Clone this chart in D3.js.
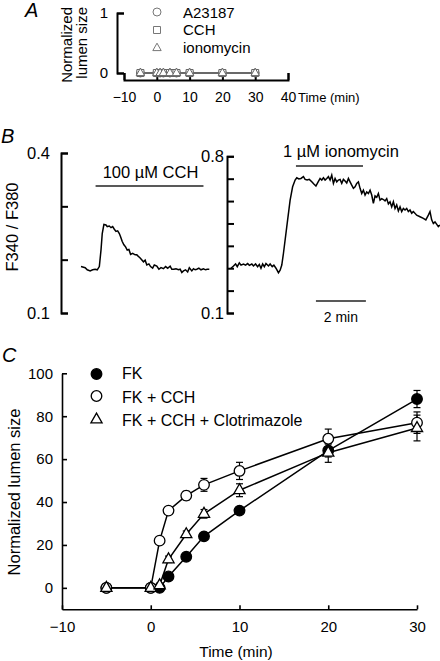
<!DOCTYPE html>
<html><head><meta charset="utf-8">
<script src="https://cdn.jsdelivr.net/npm/d3@7"></script>
<style>
html,body{margin:0;padding:0;background:#fff;}
svg{display:block;font-family:"Liberation Sans",Arial,sans-serif;}
</style></head>
<body><svg id="c" width="440" height="661"></svg>
<script>
// ---------- Panel A data ----------
const aTimes = [-5, 0, 1, 2, 4, 6, 10, 20, 30];
const aA23187 = [0, 0, 0, 0, 0, 0, 0, 0, 0];
const aCCH = [0, 0, 0, 0, 0, 0, 0, 0, 0];
const aIono = [0, 0, 0, 0, 0, 0, 0, 0, 0];
const aLegend = ["A23187", "CCH", "ionomycin"];
const aXTicks = [-10, 0, 10, 20, 30, 40];
const aYTicks = [0, 1];

// ---------- Panel B data (time s, F340/F380) ----------
const cchTraceT = [0,10,15,22,28,34,39,44,48,51,55,60,63,68,72,76,80,84,88,92,95,99,103,107,111,115,119,124,130,134,138,142,150,154,158,163,167,172,176,182,187,192,198,203,208,214,218,223,228,234,238,242,246,251,256,260,266,270,274,278,283,288,294,299,303,308];
const cchTraceV = [0.187,0.185,0.181,0.179,0.181,0.182,0.181,0.187,0.218,0.249,0.266,0.265,0.262,0.263,0.260,0.262,0.257,0.253,0.254,0.249,0.243,0.234,0.228,0.224,0.218,0.219,0.210,0.212,0.209,0.209,0.206,0.203,0.196,0.199,0.190,0.192,0.187,0.184,0.190,0.188,0.182,0.185,0.183,0.187,0.184,0.188,0.182,0.182,0.183,0.181,0.182,0.176,0.179,0.181,0.177,0.185,0.179,0.183,0.181,0.182,0.184,0.181,0.183,0.181,0.182,0.182];
const ionoTraceT = [0,6,11,15,20,24,30,35,40,44,50,54,59,64,68,72,76,80,84,90,94,99,103,108,114,118,122,126,134,142,148,154,158,163,168,174,178,183,188,194,199,204,208,214,218,222,226,230,234,238,242,246,250,254,258,262,266,270,274,278,282,286,290,294,298,302,306,310,314,318,322,326,330,334,338,342,346,350,354,358,362,366,370,374,378,382,386,390,394,398,402,406,410,414,418,422,426,430,434,438,446,454,462,468,474,478,482,486,490,498,502];
const ionoTraceV = [0.300,0.310,0.319,0.307,0.324,0.314,0.319,0.314,0.321,0.313,
0.319,0.310,0.319,0.307,0.317,0.300,0.319,0.307,0.321,0.310,
0.319,0.307,0.314,0.300,0.280,0.291,0.314,0.367,0.486,0.604,
0.664,0.694,0.704,0.699,0.701,0.709,0.697,0.694,0.697,0.686,
0.676,0.667,0.681,0.701,0.694,0.704,0.694,0.701,0.709,0.694,
0.716,0.679,0.701,0.686,0.694,0.697,0.679,0.697,0.690,0.681,
0.701,0.686,0.671,0.657,0.664,0.679,0.686,0.657,0.634,0.649,
0.627,0.641,0.634,0.649,0.627,0.590,0.623,0.617,0.634,0.604,
0.611,0.607,0.601,0.611,0.587,0.597,0.574,0.597,0.567,0.583,
0.556,0.574,0.553,0.567,0.560,0.567,0.553,0.560,0.546,0.553,
0.537,0.530,0.523,0.516,0.537,0.553,0.516,0.500,0.507,0.486,0.493];
const cchBar = [35, 294];
const ionoBar = [156, 317];
const scaleBar = [204, 324];
const bLeftTicks = [0.1, 0.2, 0.3, 0.4];
const bRightTicks = [0.1, 0.2, 0.3, 0.4, 0.5, 0.6, 0.7, 0.8];

// ---------- Panel C data ----------
const cTimes = [-5, 0, 1, 2, 4, 6, 10, 20, 30];
const fk = [0, 0, 0, 5.3, 14.5, 24, 36, 64, 88];
const fkErr = [0, 0, 0, 1, 1.5, 1.5, 1.5, 3, 4];
const fkCch = [0, 0, 22, 36, 43, 48, 54.5, 69.5, 77];
const fkCchErr = [0, 0, 1, 1.5, 2, 3, 4, 4.5, 5];
const fkCchClo = [0, 0, 1.2, 13.3, 25, 34.5, 45.5, 63, 74.5];
const fkCchCloErr = [0, 0, 1, 1.5, 1.5, 2, 3, 4.5, 6];
const cLegend = ["FK", "FK + CCH", "FK + CCH + Clotrimazole"];
const cXTicks = [-10, 0, 10, 20, 30];
const cYTicks = [0, 20, 40, 60, 80, 100];

const svg = d3.select("#c");
const triPath = (s) => `M0,${-1.15*s}L${s},${0.62*s}L${-s},${0.62*s}Z`;
const sqPath = (s) => `M${-s},${-s}H${s}V${s}H${-s}Z`;

// panel letters
[["A",25,17],["B",1,143],["C",2,362]].forEach(([t,x,y])=>{
  svg.append("text").attr("x",x).attr("y",y).attr("font-size",20).attr("font-style","italic").text(t);
});

// ================= PANEL A =================
{
  const x = d3.scaleLinear().domain([-10,40]).range([124,288]);
  const y = d3.scaleLinear().domain([0,1]).range([73,13]);
  const gx = svg.append("g").attr("transform","translate(0,80)")
    .call(d3.axisBottom(x).tickValues(aXTicks).tickSize(-7).tickPadding(12).tickFormat(d3.format("d")));
  const gy = svg.append("g").attr("transform","translate(117,0)")
    .call(d3.axisLeft(y).tickValues(aYTicks).tickSize(-7).tickPadding(9).tickFormat(d3.format("d")));
  [gx,gy].forEach(g=>{
    g.selectAll("path,line").attr("stroke","#000").attr("stroke-width",2);
    g.selectAll("text").attr("font-size",14).attr("font-family","Liberation Sans, Arial");
  });
  gy.selectAll("text").attr("font-size",15);
  svg.append("text").attr("x",298).attr("y",102).attr("font-size",13).text("Time (min)");
  svg.append("text").attr("transform","translate(72,7) rotate(-90)").attr("text-anchor","end").attr("font-size",15).text("Normalized");
  svg.append("text").attr("transform","translate(87,7) rotate(-90)").attr("text-anchor","end").attr("font-size",15).text("lumen size");

  const line = d3.line().x((d,i)=>x(aTimes[i])).y(d=>y(d));
  const series = [aA23187, aCCH, aIono];
  series.forEach(s=>{
    svg.append("path").attr("d",line(s)).attr("fill","none").attr("stroke","#555").attr("stroke-width",1);
  });
  const shapes = [
    g=>g.append("circle").attr("r",4),
    g=>g.append("path").attr("d",sqPath(3.5)),
    g=>g.append("path").attr("d",triPath(4.2))
  ];
  series.forEach((s,k)=>{
    s.forEach((v,i)=>{
      const g = svg.append("g").attr("transform",`translate(${x(aTimes[i])},${y(v)})`);
      shapes[k](g).attr("fill","#fff").attr("stroke","#666").attr("stroke-width",1);
    });
  });
  aLegend.forEach((t,k)=>{
    const yy = [12,30,48][k];
    const g = svg.append("g").attr("transform",`translate(157,${yy})`);
    shapes[k](g).attr("fill","#fff").attr("stroke","#777").attr("stroke-width",1);
    svg.append("text").attr("x",183).attr("y",[17.5,35,53][k]).attr("font-size",15).text(t);
  });
}

// ================= PANEL B =================
{
  const yL = d3.scaleLinear().domain([0.1,0.4]).range([313,153]);
  const yR = d3.scaleLinear().domain([0.1,0.8]).range([313,156.3]);
  const xL = d3.scaleLinear().domain([0,308]).range([81,209.3]);
  const xR = d3.scaleLinear().domain([0,502]).range([231,440]);
  const fmt = d=> (Math.abs(d-0.1)<1e-9 || Math.abs(d-0.4)<1e-9) ? d3.format(".1f")(d) : "";
  const fmtR = d=> (Math.abs(d-0.1)<1e-9 || Math.abs(d-0.8)<1e-9) ? d3.format(".1f")(d) : "";
  const gl = svg.append("g").attr("transform","translate(61,0)")
    .call(d3.axisLeft(yL).tickValues(bLeftTicks).tickSize(-7).tickPadding(11).tickFormat(fmt));
  const gr = svg.append("g").attr("transform","translate(227,0)")
    .call(d3.axisLeft(yR).tickValues(bRightTicks).tickSize(-7).tickPadding(3).tickFormat(fmtR));
  [gl,gr].forEach(g=>{
    g.selectAll("path,line").attr("stroke","#000").attr("stroke-width",2);
    g.selectAll("text").attr("font-size",16.5).attr("font-family","Liberation Sans, Arial");
  });
  svg.append("text").attr("transform","translate(18,227) rotate(-90)").attr("text-anchor","middle").attr("font-size",16.5).text("F340 / F380");

  const lineL = d3.line().x((d,i)=>xL(cchTraceT[i])).y(d=>yL(d));
  const lineR = d3.line().x((d,i)=>xR(ionoTraceT[i])).y(d=>yR(d));
  svg.append("path").attr("d",lineL(cchTraceV)).attr("fill","none").attr("stroke","#000").attr("stroke-width",1.5);
  svg.append("path").attr("d",lineR(ionoTraceV)).attr("fill","none").attr("stroke","#000").attr("stroke-width",1.5);

  svg.append("line").attr("x1",xL(cchBar[0])).attr("x2",xL(cchBar[1])).attr("y1",186).attr("y2",186).attr("stroke","#222").attr("stroke-width",1.3);
  svg.append("text").attr("x",(xL(cchBar[0])+xL(cchBar[1]))/2+1).attr("y",178).attr("text-anchor","middle").attr("font-size",16.5).text("100 \u00b5M CCH");
  svg.append("line").attr("x1",xR(ionoBar[0])).attr("x2",xR(ionoBar[1])).attr("y1",166).attr("y2",166).attr("stroke","#222").attr("stroke-width",1.3);
  svg.append("text").attr("x",341).attr("y",157).attr("text-anchor","middle").attr("font-size",16.5).text("1 \u00b5M ionomycin");
  svg.append("line").attr("x1",xR(scaleBar[0])).attr("x2",xR(scaleBar[1])).attr("y1",301).attr("y2",301).attr("stroke","#222").attr("stroke-width",1.3);
  svg.append("text").attr("x",(xR(scaleBar[0])+xR(scaleBar[1]))/2).attr("y",322).attr("text-anchor","middle").attr("font-size",14).text("2 min");
}

// ================= PANEL C =================
{
  const x = d3.scaleLinear().domain([-10,30]).range([62,417]);
  const y = d3.scaleLinear().domain([-10,100]).range([609.3,373.3]);
  const gx = svg.append("g").attr("transform","translate(0,609.3)")
    .call(d3.axisBottom(x).tickValues(cXTicks).tickSize(-4).tickSizeOuter(0).tickPadding(12));
  const gy = svg.append("g").attr("transform","translate(62,0)")
    .call(d3.axisLeft(y).tickValues(cYTicks).tickSize(-5).tickSizeOuter(0).tickPadding(9));
  [gx,gy].forEach(g=>{
    g.selectAll("path,line").attr("stroke","#000").attr("stroke-width",1.6);
    g.selectAll("text").attr("font-size",15).attr("font-family","Liberation Sans, Arial");
  });
  svg.append("text").attr("x",236).attr("y",657).attr("text-anchor","middle").attr("font-size",15.5).text("Time (min)");
  svg.append("text").attr("transform","translate(20,492) rotate(-90)").attr("text-anchor","middle").attr("font-size",16.5).text("Normalized lumen size");

  const series = [[fk,fkErr],[fkCch,fkCchErr],[fkCchClo,fkCchCloErr]];
  const line = d3.line().x((d,i)=>x(cTimes[i])).y(d=>y(d));
  series.forEach(([v])=>{
    svg.append("path").attr("d",line(v)).attr("fill","none").attr("stroke","#000").attr("stroke-width",1.5);
  });
  series.forEach(([v,e])=>{
    v.forEach((d,i)=>{
      if(!e[i]) return;
      const cx = x(cTimes[i]);
      svg.append("line").attr("x1",cx).attr("x2",cx).attr("y1",y(d-e[i])).attr("y2",y(d+e[i])).attr("stroke","#000").attr("stroke-width",1.2);
      [d-e[i],d+e[i]].forEach(q=>{
        svg.append("line").attr("x1",cx-3.5).attr("x2",cx+3.5).attr("y1",y(q)).attr("y2",y(q)).attr("stroke","#000").attr("stroke-width",1.2);
      });
    });
  });
  const shapes = [
    g=>g.append("circle").attr("r",5.3).attr("fill","#000"),
    g=>g.append("circle").attr("r",5.3).attr("fill","#fff"),
    g=>g.append("path").attr("d",triPath(5.6)).attr("fill","#fff")
  ];
  series.forEach(([v],k)=>{
    v.forEach((d,i)=>{
      const g = svg.append("g").attr("transform",`translate(${x(cTimes[i])},${y(d)})`);
      shapes[k](g).attr("stroke","#000").attr("stroke-width",1.3);
    });
  });
  cLegend.forEach((t,k)=>{
    const g = svg.append("g").attr("transform",`translate(96.5,${[374,396,419.5][k]})`);
    shapes[k](g).attr("stroke","#000").attr("stroke-width",1.3);
    svg.append("text").attr("x",122).attr("y",[379,403,426][k]).attr("font-size",16).text(t);
  });
}
</script></body></html>
